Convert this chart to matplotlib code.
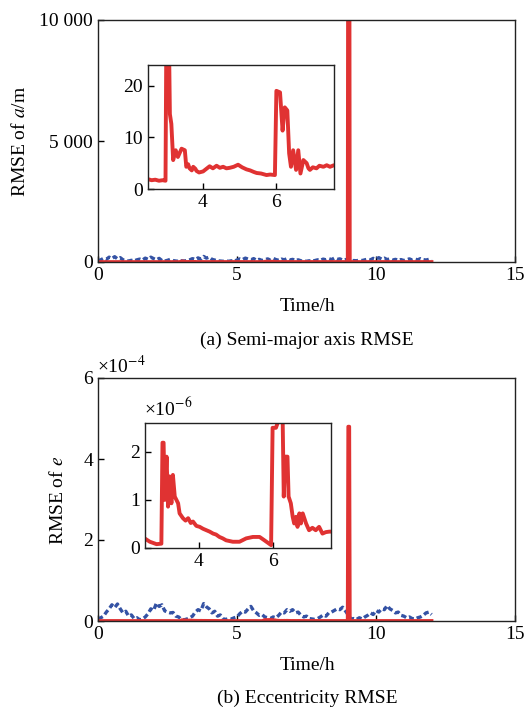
import numpy as np
import matplotlib
matplotlib.use("Agg")
import matplotlib.pyplot as plt
from matplotlib.ticker import FixedLocator, FuncFormatter

plt.rcParams["font.family"] = ["Liberation Serif", "DejaVu Serif"]
plt.rcParams["mathtext.fontset"] = "stix"
plt.rcParams["font.size"] = 14

RED = "#e03232"
BLUE = "#3452a4"

# ---- semi-major axis: filter with anomaly spike (red), reference filter (blue)
a_red_t = [0.0, 0.5, 1.0, 1.5, 2.0, 2.5, 2.6, 2.7, 2.8, 2.9, 2.98,
           3.0, 3.08, 3.1, 3.14, 3.19, 3.26, 3.32, 3.42, 3.51, 3.55, 3.6,
           3.64, 3.7, 3.74, 3.8, 3.83, 3.9, 4.01, 4.1, 4.19, 4.28, 4.38,
           4.47, 4.56, 4.65, 4.74, 4.85, 4.97, 5.08, 5.2, 5.3, 5.4, 5.48,
           5.6, 5.75, 5.85, 5.98, 6.02, 6.12, 6.19, 6.25, 6.32, 6.37, 6.42,
           6.48, 6.56, 6.62, 6.68, 6.76, 6.85, 6.9, 6.94, 7.02, 7.12, 7.2,
           7.31, 7.4, 7.49, 7.6, 8.0, 8.5, 8.98, 9.0, 9.04, 9.06, 9.5,
           10.0, 11.0, 12.0]
a_red_v = [2.0, 1.8, 2.2, 1.9, 2.1, 1.9, 1.7, 1.8, 1.6, 1.7, 1.6,
           26.0, 26.0, 14.5, 12.6, 5.6, 7.5, 6.2, 7.8, 7.5, 4.3, 4.8,
           4.0, 3.6, 4.3, 3.9, 3.5, 3.2, 3.4, 3.9, 4.4, 4.0, 4.5,
           4.1, 4.3, 4.0, 4.1, 4.3, 4.7, 4.2, 3.8, 3.6, 3.3, 3.1,
           3.0, 2.7, 2.8, 2.7, 19.0, 18.7, 11.3, 15.8, 15.2, 6.9, 4.3,
           7.5, 3.7, 7.5, 3.0, 5.6, 5.0, 4.0, 3.7, 4.2, 4.0, 4.5,
           4.3, 4.6, 4.3, 4.6, 3.8, 4.0, 4.2, 20000.0, 20000.0, 3.5, 3.2,
           3.6, 3.0, 3.4]

a_blue_v = [60, 90, 150, 110, 200, 140, 220, 130, 180, 90,
            60, 40, 70, 50, 90, 120, 80, 160, 110, 200,
            140, 90, 150, 60, 40, 70, 110, 60, 40, 30,
            50, 40, 60, 90, 140, 100, 170, 120, 230, 160,
            200, 110, 80, 50, 40, 30, 40, 30, 50, 40,
            80, 130, 100, 160, 120, 90, 140, 70, 110, 60,
            90, 130, 80, 150, 100, 70, 120, 90, 140, 80,
            110, 60, 90, 50, 40, 30, 50, 40, 60, 90,
            70, 120, 90, 140, 100, 160, 110, 130, 80, 100,
            60, 40, 60, 50, 80, 60, 90, 120, 90, 150,
            110, 180, 120, 160, 100, 130, 80, 110, 70, 100,
            60, 90, 130, 80, 120, 90, 140, 100, 80, 110,
            60]

# ---- eccentricity, red in units of 1e-6, blue in units of 1e-4
e_red_t = [0.0, 0.5, 1.0, 1.5, 2.0, 2.54, 2.68, 2.86, 2.99,
           3.02, 3.05, 3.08, 3.13, 3.17, 3.21, 3.26, 3.30, 3.35, 3.44, 3.48,
           3.57, 3.64, 3.71, 3.78, 3.84, 3.93, 4.02, 4.11, 4.20, 4.29,
           4.38, 4.46, 4.55, 4.64, 4.73, 4.91, 5.09, 5.27, 5.45, 5.63,
           5.76, 5.94, 5.98, 6.07, 6.16, 6.25, 6.28, 6.32, 6.38, 6.41,
           6.47, 6.52, 6.56, 6.61, 6.65, 6.70, 6.74, 6.79, 6.88, 6.96,
           7.05, 7.14, 7.23, 7.32, 7.41, 7.50, 8.0, 8.5, 8.98, 9.0,
           9.04, 9.06, 9.5, 10.0, 11.0, 12.0]
e_red_v = [0.2, 0.3, 0.25, 0.2, 0.22, 0.20, 0.13, 0.08, 0.09,
           2.19, 2.19, 1.0, 1.9, 0.86, 1.49, 0.93, 1.52, 1.07, 0.93, 0.72,
           0.62, 0.57, 0.62, 0.52, 0.55, 0.46, 0.44, 0.40, 0.37, 0.34,
           0.30, 0.28, 0.23, 0.20, 0.16, 0.13, 0.13, 0.20, 0.23, 0.23,
           0.16, 0.06, 2.5, 2.5, 2.7, 2.7, 1.07, 1.9, 1.9, 1.07,
           0.93, 0.65, 0.51, 0.65, 0.44, 0.72, 0.51, 0.72, 0.51, 0.37,
           0.42, 0.37, 0.44, 0.30, 0.33, 0.34, 0.35, 0.3, 0.3, 480.0,
           480.0, 0.3, 0.3, 0.28, 0.3, 0.3]

e_blue_v = [0.05, 0.08, 0.12, 0.22, 0.30, 0.40, 0.33, 0.42, 0.30, 0.20,
            0.24, 0.12, 0.15, 0.06, 0.08, 0.03, 0.05, 0.10, 0.18, 0.30,
            0.26, 0.44, 0.36, 0.40, 0.25, 0.22, 0.20, 0.21, 0.12, 0.10,
            0.04, 0.03, 0.05, 0.08, 0.12, 0.22, 0.28, 0.25, 0.43, 0.35,
            0.30, 0.20, 0.24, 0.12, 0.15, 0.05, 0.04, 0.06, 0.05, 0.08,
            0.10, 0.18, 0.24, 0.22, 0.30, 0.36, 0.25, 0.20, 0.14, 0.16,
            0.10, 0.08, 0.06, 0.10, 0.08, 0.14, 0.22, 0.20, 0.28, 0.24,
            0.28, 0.20, 0.22, 0.14, 0.10, 0.12, 0.06, 0.05, 0.04, 0.06,
            0.10, 0.15, 0.12, 0.20, 0.22, 0.26, 0.30, 0.28, 0.34, 0.25,
            0.15, 0.05, 0.06, 0.04, 0.08, 0.05, 0.10, 0.14, 0.20, 0.16,
            0.26, 0.22, 0.30, 0.28, 0.38, 0.30, 0.26, 0.20, 0.22, 0.14,
            0.12, 0.08, 0.10, 0.06, 0.05, 0.08, 0.10, 0.14, 0.20, 0.22,
            0.16]

# blue filter output is sampled every 0.1 h over 0-12 h
blue_t = np.linspace(0, 12, len(a_blue_v))

W, H = 524, 711


def px(x, y):
    return x / W, 1 - y / H


def style(ax, size=14):
    ax.tick_params(direction="in", length=4, width=1, labelsize=size,
                   top=False, right=False)
    for s in ax.spines.values():
        s.set_linewidth(1.0)
        s.set_color("#222222")


def thousands(v, pos):
    return f"{int(v):,}".replace(",", " ")


fig = plt.figure(figsize=(W / 100, H / 100), dpi=100)

# ---------- (a) semi-major axis
ax1 = fig.add_axes([98 / W, 1 - 262 / H, 417 / W, 242 / H])
ax1.plot(blue_t, a_blue_v, color=BLUE, lw=2.4, ls=(0, (1.6, 0.9)))
ax1.plot(a_red_t, a_red_v, color=RED, lw=2.6)
ax1.set_xlim(0, 15)
ax1.set_ylim(0, 10000)
ax1.xaxis.set_major_locator(FixedLocator([0, 5, 10, 15]))
ax1.yaxis.set_major_locator(FixedLocator([0, 5000, 10000]))
ax1.yaxis.set_major_formatter(FuncFormatter(thousands))
style(ax1)

in1 = fig.add_axes([148 / W, 1 - 189 / H, 186 / W, 124 / H])
in1.plot(a_red_t, a_red_v, color=RED, lw=2.8)
in1.set_xlim(2.5, 7.6)
in1.set_ylim(0, 24)
in1.xaxis.set_major_locator(FixedLocator([4, 6]))
in1.yaxis.set_major_locator(FixedLocator([0, 10, 20]))
style(in1)

fig.text(*px(20, 141), "RMSE of $\\mathit{a}$/m", rotation=90,
         ha="center", va="center", fontsize=14)
fig.text(*px(307, 306), "Time/h", ha="center", va="center", fontsize=14)
fig.text(*px(307, 340), "(a) Semi-major axis RMSE", ha="center",
         va="center", fontsize=14)

# ---------- (b) eccentricity
ax2 = fig.add_axes([98 / W, 1 - 621 / H, 417 / W, 243 / H])
ax2.plot(blue_t, e_blue_v, color=BLUE, lw=2.4, ls=(0, (1.6, 0.9)))
ax2.plot(e_red_t, np.array(e_red_v) / 100, color=RED, lw=2.6)
ax2.set_xlim(0, 15)
ax2.set_ylim(0, 6)
ax2.xaxis.set_major_locator(FixedLocator([0, 5, 10, 15]))
ax2.yaxis.set_major_locator(FixedLocator([0, 2, 4, 6]))
style(ax2)

in2 = fig.add_axes([145 / W, 1 - 548 / H, 186 / W, 125 / H])
in2.plot(e_red_t, e_red_v, color=RED, lw=2.8)
in2.set_xlim(2.55, 7.55)
in2.set_ylim(0, 2.6)
in2.xaxis.set_major_locator(FixedLocator([4, 6]))
in2.yaxis.set_major_locator(FixedLocator([0, 1, 2]))
style(in2)

fig.text(*px(97, 366), "\u00d710$^{\u22124}$", ha="left", va="center",
         fontsize=14)
fig.text(*px(144, 408), "\u00d710$^{\u22126}$", ha="left", va="center",
         fontsize=14)

fig.text(*px(58, 500), "RMSE of $\\mathit{e}$", rotation=90,
         ha="center", va="center", fontsize=14)
fig.text(*px(307, 666), "Time/h", ha="center", va="center", fontsize=14)
fig.text(*px(307, 698), "(b) Eccentricity RMSE", ha="center",
         va="center", fontsize=14)

fig.savefig("out.png", dpi=100)
